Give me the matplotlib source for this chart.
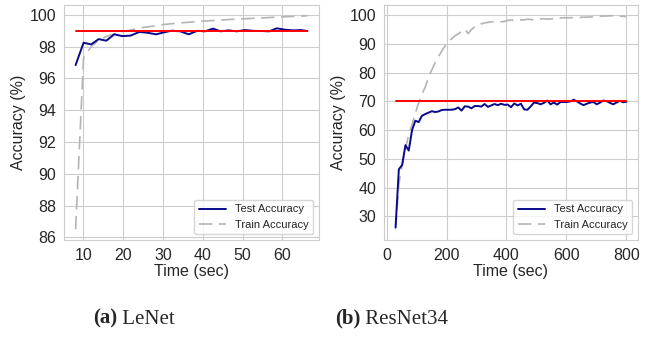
import matplotlib
matplotlib.use("Agg")
import matplotlib.pyplot as plt
import seaborn as sns

# LeNet
lenet_time = [8.1, 10.1, 12.0, 13.9, 15.8, 17.8, 19.8, 21.9, 24.1, 26.2,
              28.3, 30.2, 32.2, 34.4, 36.5, 38.6, 40.6, 42.6, 44.5, 46.5,
              48.5, 50.6, 52.7, 54.8, 56.7, 58.6, 60.7, 62.8, 64.6, 66.3]
lenet_test = [96.84, 98.25, 98.15, 98.48, 98.38, 98.78, 98.67, 98.70, 98.93, 98.88,
              98.78, 98.90, 99.01, 98.97, 98.78, 99.00, 98.97, 99.14, 98.97, 99.03,
              98.97, 99.05, 99.00, 98.99, 98.97, 99.16, 99.07, 99.03, 99.05, 98.99]
lenet_train = [86.5, 97.3, 98.0, 98.4, 98.65, 98.8, 98.95, 99.05, 99.18, 99.25,
               99.32, 99.4, 99.45, 99.5, 99.54, 99.58, 99.62, 99.65, 99.68, 99.71,
               99.74, 99.76, 99.79, 99.81, 99.84, 99.86, 99.89, 99.91, 99.93, 99.95]
lenet_target = 99.0
lenet_xticks = [10, 20, 30, 40, 50, 60]
lenet_yticks = [86, 88, 90, 92, 94, 96, 98, 100]

# ResNet34
resnet_time = [30, 41, 52, 63, 74, 85, 96, 107, 118, 129,
               140, 151, 162, 173, 184, 195, 206, 217, 228, 239,
               250, 261, 272, 283, 294, 305, 316, 327, 338, 349,
               360, 371, 382, 393, 404, 415, 426, 437, 448, 459,
               470, 481, 492, 503, 514, 525, 536, 547, 558, 569,
               580, 591, 602, 613, 624, 635, 646, 657, 668, 679,
               690, 701, 712, 723, 734, 745, 756, 767, 778, 789, 800]
resnet_test = [26.2, 46.4, 47.9, 54.8, 52.9, 60.0, 63.3, 62.8, 65.0, 65.6,
               66.1, 66.6, 66.3, 66.5, 67.0, 67.1, 67.1, 67.1, 67.3, 67.9,
               66.8, 68.3, 68.2, 67.6, 68.4, 68.4, 68.2, 69.1, 68.1, 68.6,
               69.1, 68.7, 69.2, 68.8, 68.9, 68.0, 69.3, 68.6, 69.2, 67.2,
               67.1, 68.3, 69.6, 69.4, 69.0, 69.5, 70.3, 69.0, 69.6, 68.9,
               69.8, 69.8, 69.8, 70.0, 70.6, 70.0, 69.3, 68.7, 69.2, 69.6,
               69.8, 69.0, 69.6, 70.3, 70.1, 69.5, 69.0, 69.6, 70.2, 69.7, 69.9]
resnet_train = [25.5, 41.0, 48.0, 53.5, 58.5, 62.0, 66.0, 69.5, 72.5, 75.0,
                78.5, 81.0, 83.5, 85.5, 87.5, 89.3, 90.8, 91.8, 92.8, 93.5,
                94.3, 95.2, 93.6, 95.0, 96.0, 96.6, 97.0, 97.3, 97.5, 97.7,
                97.6, 97.6, 97.7, 97.8, 98.2, 98.3, 98.2, 98.1, 98.3, 98.4,
                98.6, 98.5, 98.3, 98.6, 98.7, 98.8, 98.6, 98.7, 98.8, 98.9,
                99.0, 99.1, 99.1, 99.1, 99.2, 99.2, 99.2, 99.3, 99.3, 99.4,
                99.4, 99.5, 99.6, 99.7, 99.7, 99.8, 99.8, 99.8, 99.7, 99.6, 99.5]
resnet_target = 70.0
resnet_xticks = [0, 200, 400, 600, 800]
resnet_yticks = [30, 40, 50, 60, 70, 80, 90, 100]

sns.set_style("whitegrid")
plt.rcParams['font.family'] = ['Liberation Sans', 'DejaVu Sans']

fig = plt.figure(figsize=(6.49, 3.39), dpi=100)
ax1 = fig.add_axes([0.0986, 0.292, 0.393, 0.693])
ax2 = fig.add_axes([0.5917, 0.292, 0.3913, 0.693])


def draw(ax, t, test, train, target, xt, yt):
    ax.plot(t, test, color='#0a0a8c', lw=1.4, label='Test Accuracy', zorder=3)
    ax.plot(t, train, color='#b4b4b4', lw=1.2, ls=(0, (8, 4)), label='Train Accuracy', zorder=2)
    ax.plot([t[0], t[-1]], [target, target], color='red', lw=1.4, zorder=4)
    ax.set_xticks(xt)
    ax.set_yticks(yt)
    ax.set_xlabel('Time (sec)', fontsize=11.5, labelpad=1)
    ax.set_ylabel('Accuracy (%)', fontsize=11.5, labelpad=3)
    ax.tick_params(labelsize=11.5, pad=2)
    ax.legend(loc='lower right', fontsize=8, frameon=True, handlelength=2.5)


draw(ax1, lenet_time, lenet_test, lenet_train, lenet_target, lenet_xticks, lenet_yticks)
draw(ax2, resnet_time, resnet_test, resnet_train, resnet_target, resnet_xticks, resnet_yticks)

# captions
for x, tag, name in [(0.143, '(a)', 'LeNet'), (0.516, '(b)', 'ResNet34')]:
    t1 = fig.text(x, 0.045, tag, fontsize=15, fontweight='bold',
                  family=['Liberation Serif', 'DejaVu Serif'], va='baseline')
    ax1.annotate(' ' + name, xy=(1, 0), xycoords=t1, va='bottom', ha='left',
                 fontsize=15, family=['Liberation Serif', 'DejaVu Serif'],
                 annotation_clip=False)

fig.savefig('out.png', dpi=100)
